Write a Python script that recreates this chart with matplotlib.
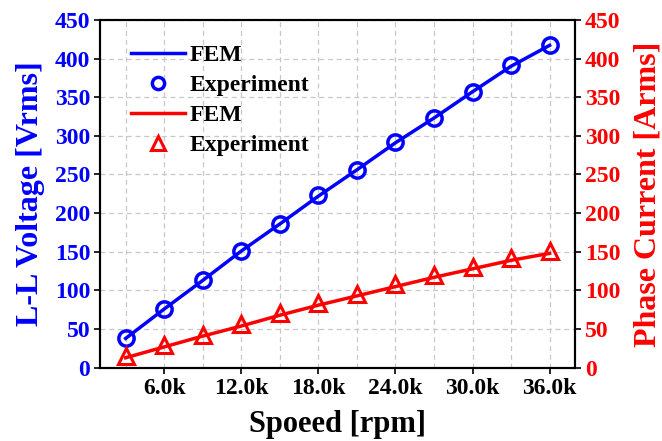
import numpy as np
import matplotlib.pyplot as plt

speed = [3000, 6000, 9000, 12000, 15000, 18000, 21000, 24000, 27000, 30000, 33000, 36000]
volt_fem = [38, 76, 113, 151, 186, 222, 256, 291, 323, 357, 390, 417]
volt_exp = [38, 76, 113, 151, 186, 223, 256, 292, 323, 357, 391, 417]
curr_fem = [13, 27, 41, 54, 68, 81, 93, 105, 117, 128, 139, 148]
curr_exp = [15, 30, 43, 57, 71, 84, 96, 108, 120, 131, 142, 151]

xticks = [6000, 12000, 18000, 24000, 30000, 36000]
xticklabels = ['6.0k', '12.0k', '18.0k', '24.0k', '30.0k', '36.0k']

plt.rcParams['font.family'] = ['Liberation Serif', 'DejaVu Serif']
plt.rcParams['font.weight'] = 'bold'

fig, ax = plt.subplots(figsize=(6.62, 4.41), dpi=100)
fig.subplots_adjust(left=0.151, right=0.869, top=0.955, bottom=0.166)
ax2 = ax.twinx()

l1, = ax.plot(speed, volt_fem, color='blue', lw=2.5, label='FEM')
p1, = ax.plot(speed, volt_exp, 'o', ms=11, mfc='none', mec='blue', mew=2.5, label='Experiment')
l2, = ax2.plot(speed, curr_fem, color='red', lw=2.5, label='FEM')
p2, = ax2.plot(speed, curr_exp, '^', ms=12, mfc='none', mec='red', mew=2.2, label='Experiment')

ax.set_xlim(1000, 38000)
ax.set_ylim(0, 450)
ax2.set_ylim(0, 450)
ax.set_yticks(np.arange(0, 451, 50))
ax2.set_yticks(np.arange(0, 451, 50))
ax.set_xticks(xticks)
ax.set_xticklabels(xticklabels)
ax.set_xticks(np.arange(3000, 37000, 3000), minor=True)

ax.grid(True, which='both', axis='x', ls=(0, (4, 3)), color='#c8c8c8', lw=0.9)
ax.grid(True, which='major', axis='y', ls=(0, (4, 3)), color='#c8c8c8', lw=0.9)
ax.set_axisbelow(True)

ax.tick_params(axis='x', which='major', labelsize=17, direction='out', length=4, width=1.2)
ax.tick_params(axis='x', which='minor', length=0)
ax.tick_params(axis='y', labelsize=17, labelcolor='blue', direction='out', length=4, width=1.2, pad=3)
ax2.tick_params(axis='y', labelsize=17, labelcolor='red', direction='out', length=4, width=1.2, pad=3)
for lab in ax.get_xticklabels() + ax.get_yticklabels() + ax2.get_yticklabels():
    lab.set_fontweight('bold')

for sp in ax.spines.values():
    sp.set_linewidth(1.5)
for sp in ax2.spines.values():
    sp.set_linewidth(1.5)

ax.set_xlabel('Spoeed [rpm]', fontsize=22, fontweight='bold', labelpad=8)
ax.set_ylabel('L-L Voltage [Vrms]', fontsize=23, fontweight='bold', color='blue', labelpad=7)
ax2.set_ylabel('Phase Current [Arms]', fontsize=23, fontweight='bold', color='red', labelpad=9)

leg = ax.legend([l1, p1, l2, p2], ['FEM', 'Experiment', 'FEM', 'Experiment'],
                loc='upper left', bbox_to_anchor=(0.02, 0.99), frameon=False,
                prop={'size': 17, 'weight': 'bold'}, handlelength=2.3,
                handletextpad=0.2, labelspacing=0.36, markerscale=0.8)

fig.savefig('out.png', dpi=100)
